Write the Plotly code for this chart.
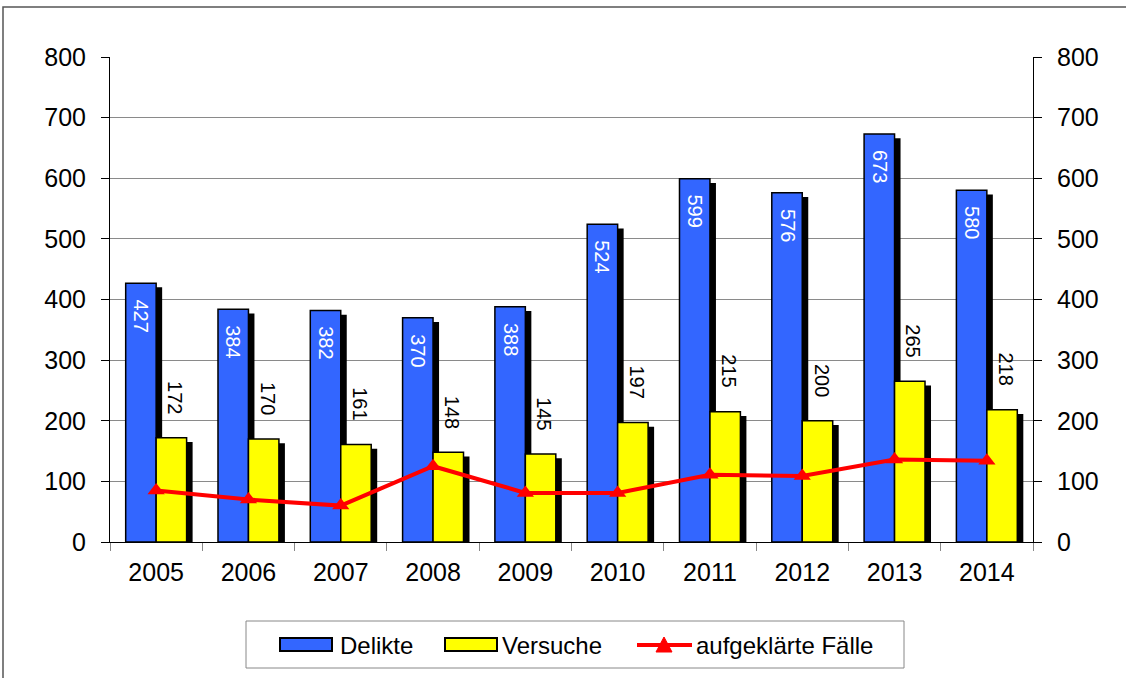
import plotly.graph_objects as go

years = ['2005', '2006', '2007', '2008', '2009', '2010', '2011', '2012', '2013', '2014']
delikte = [427, 384, 382, 370, 388, 524, 599, 576, 673, 580]
versuche = [172, 170, 161, 148, 145, 197, 215, 200, 265, 218]
aufgeklaert = [85, 70, 60, 125, 81, 81, 111, 109, 136, 134]

FONT = 'Liberation Sans, Arial, sans-serif'
BLUE = '#3366FF'
YELLOW = '#FFFF00'
RED = '#FF0000'

# plotbereich in pixeln
L, R, T, B = 110, 93, 57, 136
W, H = 1126, 678
PW, PH = W - L - R, H - T - B


def px(x, y):
    """pixel -> paper koordinaten"""
    return (x - L) / PW, (H - B - y) / PH


xs = list(range(len(years)))

fig = go.Figure()

# schatten (hinter den balken)
for vals, off in [(delikte, -0.33), (versuche, 0.0)]:
    fig.add_trace(go.Bar(
        x=xs, y=[v - 7 for v in vals],
        offset=off + 0.065, width=0.33,
        marker=dict(color='black', line=dict(width=0)),
        showlegend=False, hoverinfo='skip'
    ))

fig.add_trace(go.Bar(
    x=xs, y=delikte, name='Delikte',
    offset=-0.33, width=0.33,
    marker=dict(color=BLUE, line=dict(color='black', width=1.5))
))
fig.add_trace(go.Bar(
    x=xs, y=versuche, name='Versuche',
    offset=0.0, width=0.33,
    marker=dict(color=YELLOW, line=dict(color='black', width=1.5))
))
fig.add_trace(go.Scatter(
    x=xs, y=aufgeklaert, name='aufgeklärte Fälle',
    mode='lines+markers',
    line=dict(color=RED, width=4),
    marker=dict(symbol='triangle-up', size=15, color=RED)
))
# unsichtbare spur für rechte achse
fig.add_trace(go.Scatter(x=xs, y=delikte, yaxis='y2', mode='markers',
                         marker=dict(opacity=0), showlegend=False, hoverinfo='skip'))

annotations = []
for i, (d, v) in enumerate(zip(delikte, versuche)):
    annotations.append(dict(x=i, y=d, text=str(d), showarrow=False, textangle=90,
                            xanchor='center', yanchor='top', xshift=-15, yshift=-14,
                            font=dict(family=FONT, size=20, color='white')))
    annotations.append(dict(x=i, y=v, text=str(v), showarrow=False, textangle=90,
                            xanchor='center', yanchor='bottom', xshift=19, yshift=22,
                            font=dict(family=FONT, size=20, color='black')))

shapes = []
# rahmen um das ganze diagramm
x0, y0 = px(3, 682)
x1, y1 = px(1130, 7)
shapes.append(dict(type='rect', xref='paper', yref='paper', x0=x0, x1=x1, y0=y0, y1=y1,
                   line=dict(color='#555555', width=1.5), fillcolor='rgba(0,0,0,0)'))

# eigene legende
x0, y0 = px(246, 668)
x1, y1 = px(904, 621)
shapes.append(dict(type='rect', xref='paper', yref='paper', x0=x0, x1=x1, y0=y0, y1=y1,
                   line=dict(color='#888888', width=1), fillcolor='white'))
legend_items = [('Delikte', BLUE, 280, 338), ('Versuche', YELLOW, 445, 500)]
for name, col, sx, tx in legend_items:
    a0, b0 = px(sx, 651)
    a1, b1 = px(sx + 52, 638)
    shapes.append(dict(type='rect', xref='paper', yref='paper', x0=a0, x1=a1, y0=b0, y1=b1,
                       line=dict(color='black', width=2), fillcolor=col))
    ax_, ay_ = px(tx, 645)
    annotations.append(dict(xref='paper', yref='paper', x=ax_, y=ay_, text=name,
                            showarrow=False, xanchor='left', yanchor='middle',
                            font=dict(family=FONT, size=24, color='black')))
a0, b0 = px(637, 645)
a1, _ = px(692, 645)
shapes.append(dict(type='line', xref='paper', yref='paper', x0=a0, x1=a1, y0=b0, y1=b0,
                   line=dict(color=RED, width=4)))
tl, tb = px(656, 652)
tr, _ = px(672, 652)
tc, tt = px(664, 637)
shapes.append(dict(type='path', xref='paper', yref='paper',
                   path=f'M{tl},{tb} L{tr},{tb} L{tc},{tt} Z',
                   line=dict(color=RED, width=1), fillcolor=RED))
ax_, ay_ = px(694, 645)
annotations.append(dict(xref='paper', yref='paper', x=ax_, y=ay_, text='aufgeklärte Fälle',
                        showarrow=False, xanchor='left', yanchor='middle',
                        font=dict(family=FONT, size=24, color='black')))

yax = dict(range=[0, 800], dtick=100, tickfont=dict(family=FONT, size=25, color='black'),
           showline=True, linecolor='black', linewidth=1, ticks='outside', ticklen=8,
           tickcolor='black', zeroline=False, ticklabelstandoff=10)

fig.update_layout(
    width=W, height=H,
    margin=dict(l=L, r=R, t=T, b=B),
    barmode='overlay',
    showlegend=False,
    hovermode=False,
    paper_bgcolor='white', plot_bgcolor='white',
    font=dict(family=FONT, color='black'),
    xaxis=dict(range=[-0.5, len(years) - 0.5], tickvals=xs, ticktext=years, ticks='',
               showline=True, linecolor='black', linewidth=1, showgrid=False, zeroline=False,
               tickfont=dict(family=FONT, size=25, color='black'), ticklabelstandoff=8,
               minor=dict(tickvals=[i - 0.5 for i in range(len(years) + 1)],
                          ticks='outside', ticklen=8, tickcolor='#888888', showgrid=False)),
    yaxis=dict(**yax, showgrid=True, gridcolor='#8a8a8a', gridwidth=1),
    yaxis2=dict(**yax, overlaying='y', side='right', showgrid=False),
    annotations=annotations,
    shapes=shapes,
)

fig.write_html('out.html', config={'displayModeBar': False},
               post_script="document.body.style.margin='0';")
